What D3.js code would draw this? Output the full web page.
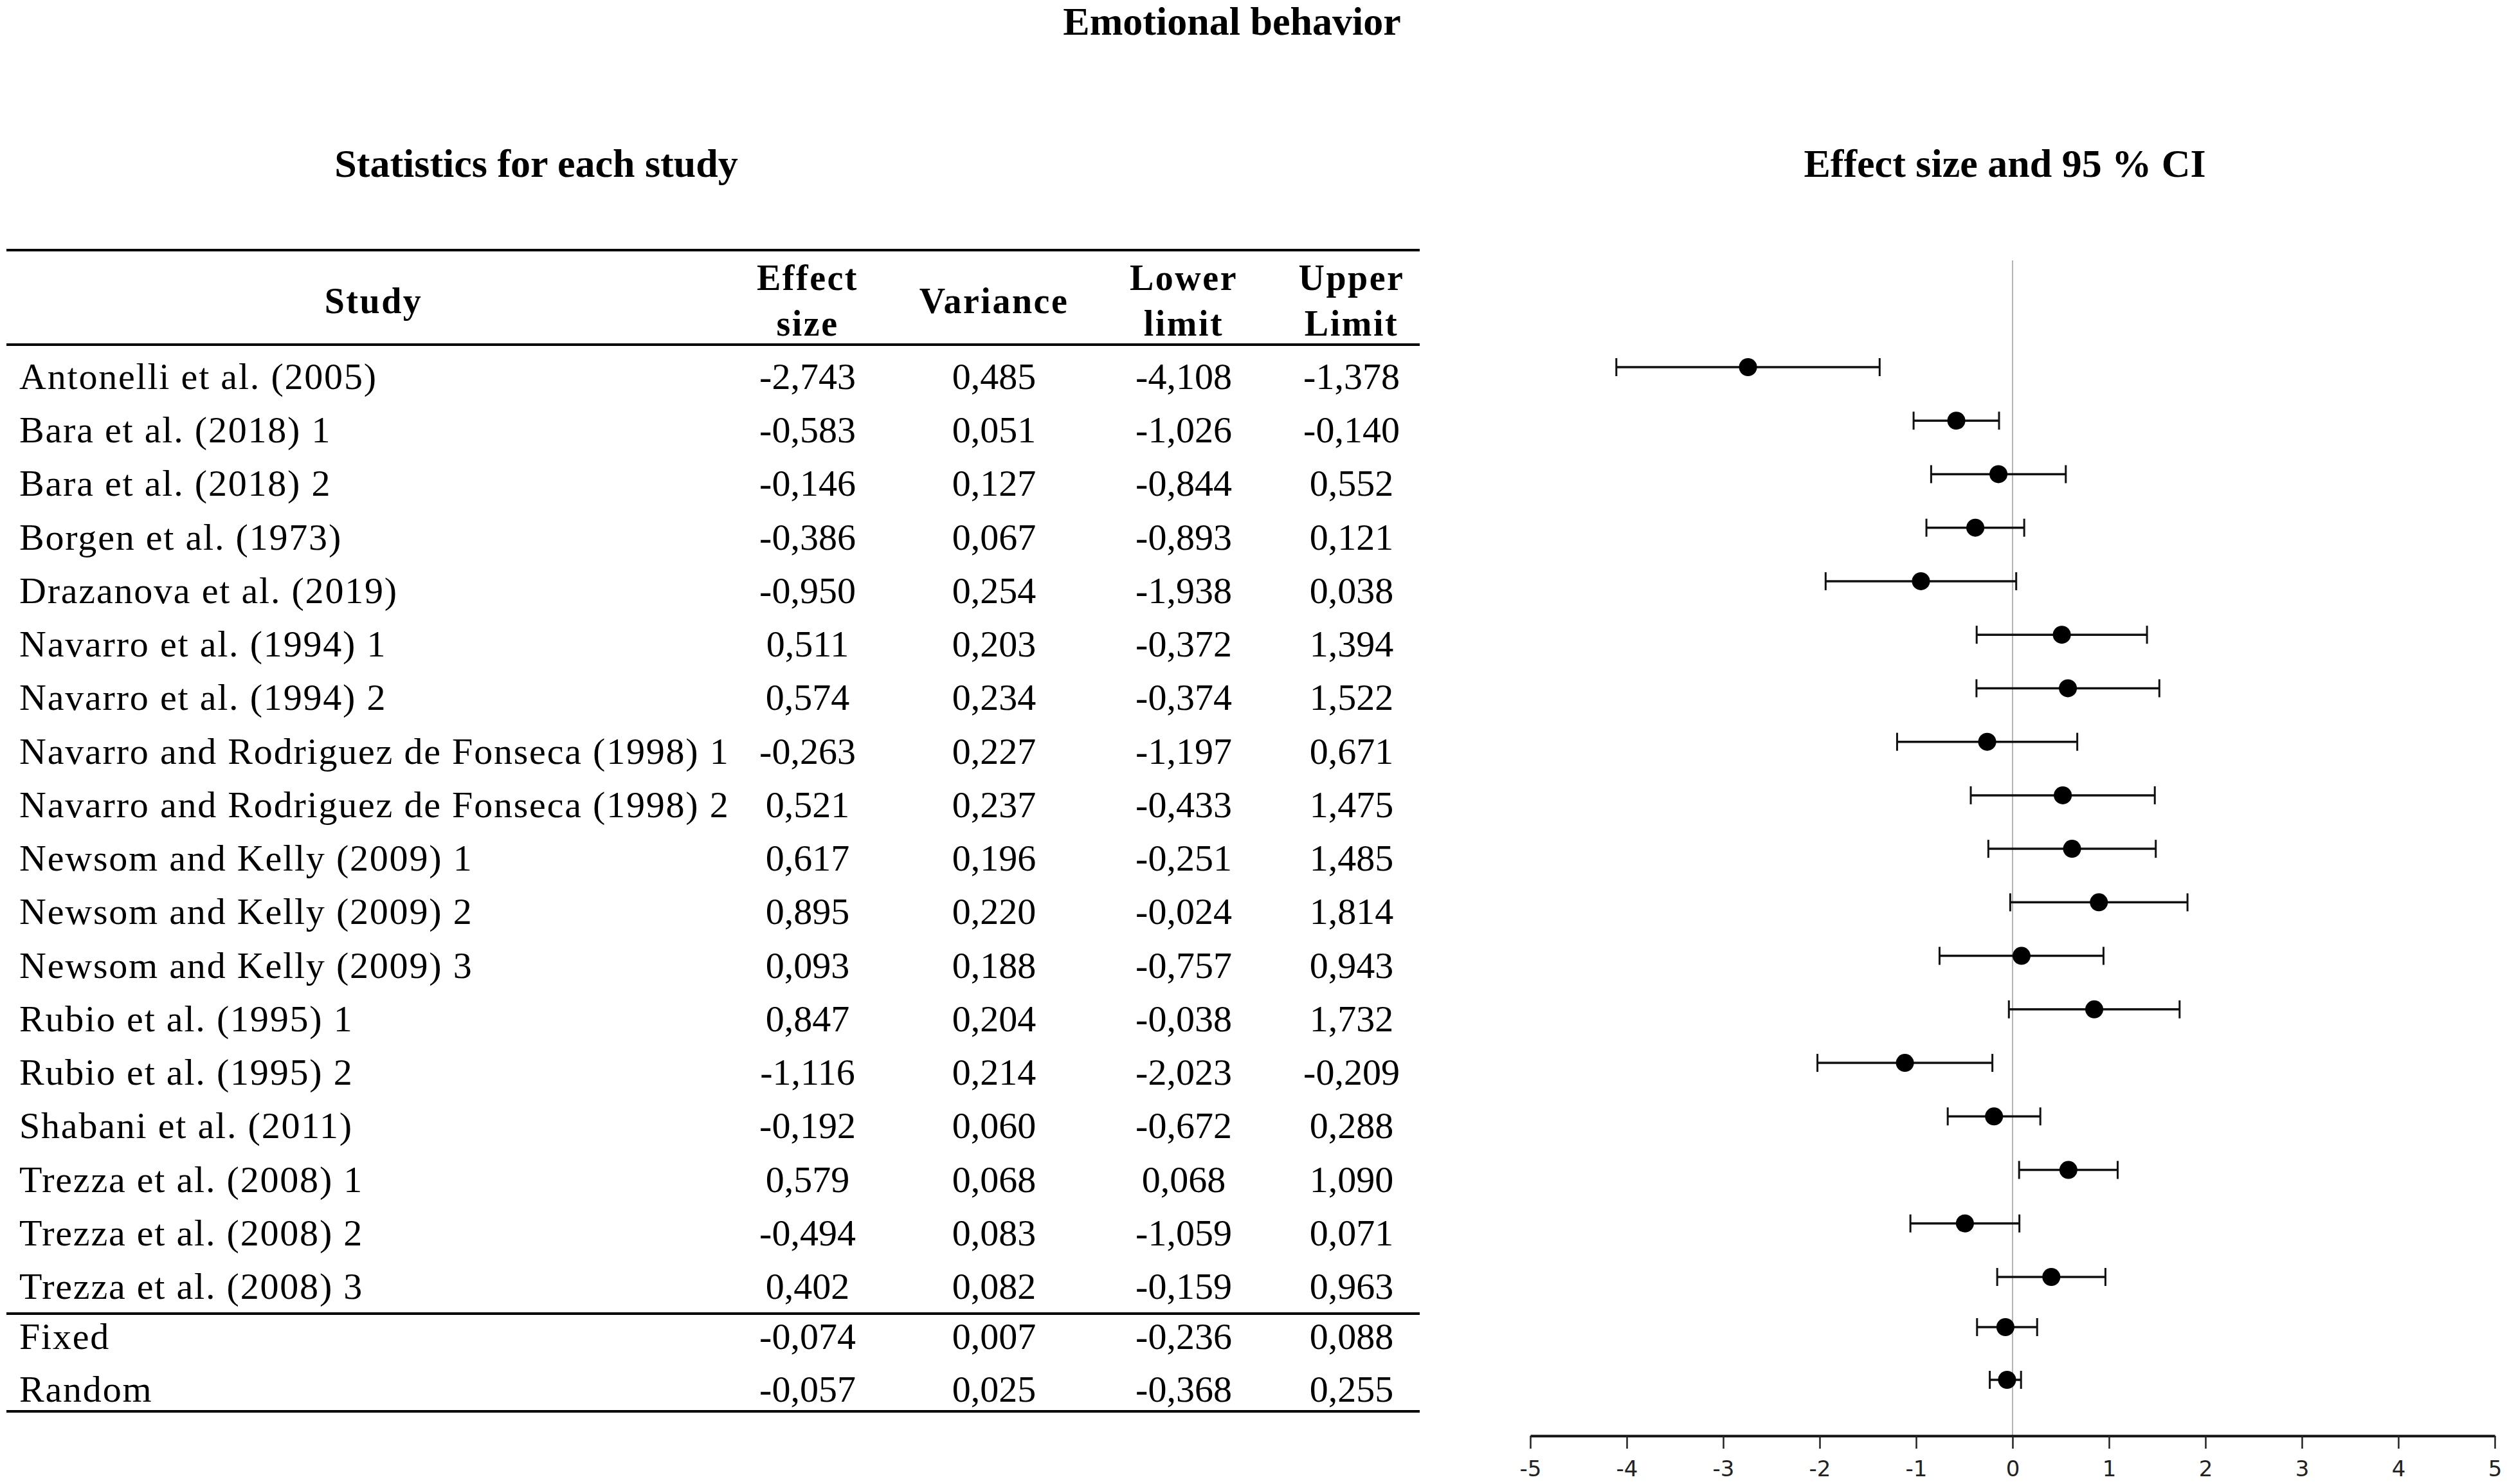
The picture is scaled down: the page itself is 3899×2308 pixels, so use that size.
<!DOCTYPE html>
<html>
<head>
<meta charset="utf-8">
<script src="https://cdn.jsdelivr.net/npm/d3@7"></script>
<style>
  html, body { margin: 0; padding: 0; background: #fff; }
  svg { display: block; }
</style>
</head>
<body>
<script>
// ---------- data ----------
const studies = [
  "Antonelli et al. (2005)",
  "Bara et al. (2018) 1",
  "Bara et al. (2018) 2",
  "Borgen et al. (1973)",
  "Drazanova et al. (2019)",
  "Navarro et al. (1994) 1",
  "Navarro et al. (1994) 2",
  "Navarro and Rodriguez de Fonseca (1998) 1",
  "Navarro and Rodriguez de Fonseca (1998) 2",
  "Newsom and Kelly (2009) 1",
  "Newsom and Kelly (2009) 2",
  "Newsom and Kelly (2009) 3",
  "Rubio et al. (1995) 1",
  "Rubio et al.  (1995) 2",
  "Shabani et al. (2011)",
  "Trezza et al. (2008) 1",
  "Trezza et al. (2008) 2",
  "Trezza et al. (2008) 3"
];
const effectSize = [-2.743, -0.583, -0.146, -0.386, -0.950, 0.511, 0.574, -0.263, 0.521, 0.617, 0.895, 0.093, 0.847, -1.116, -0.192, 0.579, -0.494, 0.402];
const variance   = [0.485, 0.051, 0.127, 0.067, 0.254, 0.203, 0.234, 0.227, 0.237, 0.196, 0.220, 0.188, 0.204, 0.214, 0.060, 0.068, 0.083, 0.082];
const lowerLimit = [-4.108, -1.026, -0.844, -0.893, -1.938, -0.372, -0.374, -1.197, -0.433, -0.251, -0.024, -0.757, -0.038, -2.023, -0.672, 0.068, -1.059, -0.159];
const upperLimit = [-1.378, -0.140, 0.552, 0.121, 0.038, 1.394, 1.522, 0.671, 1.475, 1.485, 1.814, 0.943, 1.732, -0.209, 0.288, 1.090, 0.071, 0.963];

const summaryNames  = ["Fixed", "Random"];
const summaryEffect = [-0.074, -0.057];
const summaryVar    = [0.007, 0.025];
const summaryLower  = [-0.236, -0.368];
const summaryUpper  = [0.088, 0.255];
// limits as drawn in the plot (the picture shows them the other way round)
const summaryPlotLower = [-0.368, -0.236];
const summaryPlotUpper = [0.255, 0.088];

const xTicks = [-5, -4, -3, -2, -1, 0, 1, 2, 3, 4, 5];

const fmt = v => v.toFixed(3).replace(".", ",");

// ---------- layout ----------
const W = 3899, H = 2308;
const svg = d3.select("body").append("svg").attr("width", W).attr("height", H);

const serif = "'Liberation Serif', 'Times New Roman', serif";
const sans = "'DejaVu Sans', Verdana, sans-serif";

// titles
svg.append("text").attr("x", 1916).attr("y", 54).attr("text-anchor", "middle")
  .attr("font-family", serif).attr("font-weight", "bold").attr("font-size", 62)
  .text("Emotional behavior");
svg.append("text").attr("x", 834).attr("y", 275).attr("text-anchor", "middle")
  .attr("font-family", serif).attr("font-weight", "bold").attr("font-size", 62)
  .text("Statistics for each study");
svg.append("text").attr("x", 3118).attr("y", 275).attr("text-anchor", "middle")
  .attr("font-family", serif).attr("font-weight", "bold").attr("font-size", 62)
  .text("Effect size and 95 % CI");

// table rules
const ruleX0 = 10, ruleX1 = 2208;
[389, 536, 2043, 2195].forEach(y => {
  svg.append("line").attr("x1", ruleX0).attr("x2", ruleX1).attr("y1", y).attr("y2", y)
    .attr("stroke", "#000").attr("stroke-width", 4);
});

// column headers
const colX = { study: 581, es: 1256, vr: 1546, lo: 1841, up: 2102 };
const hdr = svg.append("g").attr("font-family", serif).attr("font-weight", "bold")
  .attr("font-size", 56).attr("text-anchor", "middle").attr("letter-spacing", 2.5);
hdr.append("text").attr("x", colX.study).attr("y", 487).text("Study");
hdr.append("text").attr("x", colX.es).attr("y", 451).text("Effect");
hdr.append("text").attr("x", colX.es).attr("y", 522).text("size");
hdr.append("text").attr("x", colX.vr).attr("y", 487).text("Variance");
hdr.append("text").attr("x", colX.lo).attr("y", 451).text("Lower");
hdr.append("text").attr("x", colX.lo).attr("y", 522).text("limit");
hdr.append("text").attr("x", colX.up).attr("y", 451).text("Upper");
hdr.append("text").attr("x", colX.up).attr("y", 522).text("Limit");

// row positions (baselines)
const yRow = d3.scaleLinear().domain([0, studies.length - 1]).range([605, 2020]);
const ySummary = [2098, 2180];
const dotOffset = -34;

const rows = studies.map((s, i) => ({
  name: s, es: effectSize[i], v: variance[i], lo: lowerLimit[i], up: upperLimit[i],
  plo: lowerLimit[i], pup: upperLimit[i], y: yRow(i)
})).concat(summaryNames.map((s, i) => ({
  name: s, es: summaryEffect[i], v: summaryVar[i], lo: summaryLower[i], up: summaryUpper[i],
  plo: summaryPlotLower[i], pup: summaryPlotUpper[i], y: ySummary[i]
})));

const body = svg.append("g").attr("font-family", serif).attr("font-size", 58).attr("fill", "#000");
body.selectAll("text.name").data(rows).join("text").attr("class", "name")
  .attr("x", 30).attr("y", d => d.y).attr("letter-spacing", 1.8).text(d => d.name);
[["es", colX.es], ["v", colX.vr], ["lo", colX.lo], ["up", colX.up]].forEach(([k, cx]) => {
  body.selectAll("text.c" + k).data(rows).join("text").attr("class", "c" + k)
    .attr("x", cx).attr("y", d => d.y).attr("text-anchor", "middle")
    .text(d => fmt(d[k]));
});

// ---------- forest plot ----------
const x = d3.scaleLinear().domain([-5, 5]).range([2380, 3880]);
const axisY = 2233;

svg.append("line").attr("x1", x(0)).attr("x2", x(0)).attr("y1", 405).attr("y2", axisY)
  .attr("stroke", "#b4b4b4").attr("stroke-width", 2);

const axis = d3.axisBottom(x).tickValues(xTicks).tickSize(20).tickSizeOuter(0)
  .tickFormat(d => String(d));
const ax = svg.append("g").attr("transform", `translate(0,${axisY})`).call(axis);
ax.select(".domain").attr("stroke", "#111").attr("stroke-width", 4);
ax.selectAll(".tick line").attr("stroke", "#222").attr("stroke-width", 2.5);
ax.selectAll(".tick text").attr("font-family", sans).attr("font-size", 34)
  .attr("fill", "#222").attr("dy", "0").attr("y", 63);

const marks = svg.append("g");
const capH = 14;
marks.selectAll("line.ci").data(rows).join("line").attr("class", "ci")
  .attr("x1", d => x(d.plo)).attr("x2", d => x(d.pup))
  .attr("y1", d => d.y + dotOffset).attr("y2", d => d.y + dotOffset)
  .attr("stroke", "#111").attr("stroke-width", 3.5);
marks.selectAll("line.capL").data(rows).join("line").attr("class", "capL")
  .attr("x1", d => x(d.plo)).attr("x2", d => x(d.plo))
  .attr("y1", d => d.y + dotOffset - capH).attr("y2", d => d.y + dotOffset + capH)
  .attr("stroke", "#111").attr("stroke-width", 3);
marks.selectAll("line.capR").data(rows).join("line").attr("class", "capR")
  .attr("x1", d => x(d.pup)).attr("x2", d => x(d.pup))
  .attr("y1", d => d.y + dotOffset - capH).attr("y2", d => d.y + dotOffset + capH)
  .attr("stroke", "#111").attr("stroke-width", 3);
marks.selectAll("circle").data(rows).join("circle")
  .attr("cx", d => x(d.es)).attr("cy", d => d.y + dotOffset).attr("r", 14)
  .attr("fill", "#000");
</script>
</body>
</html>
